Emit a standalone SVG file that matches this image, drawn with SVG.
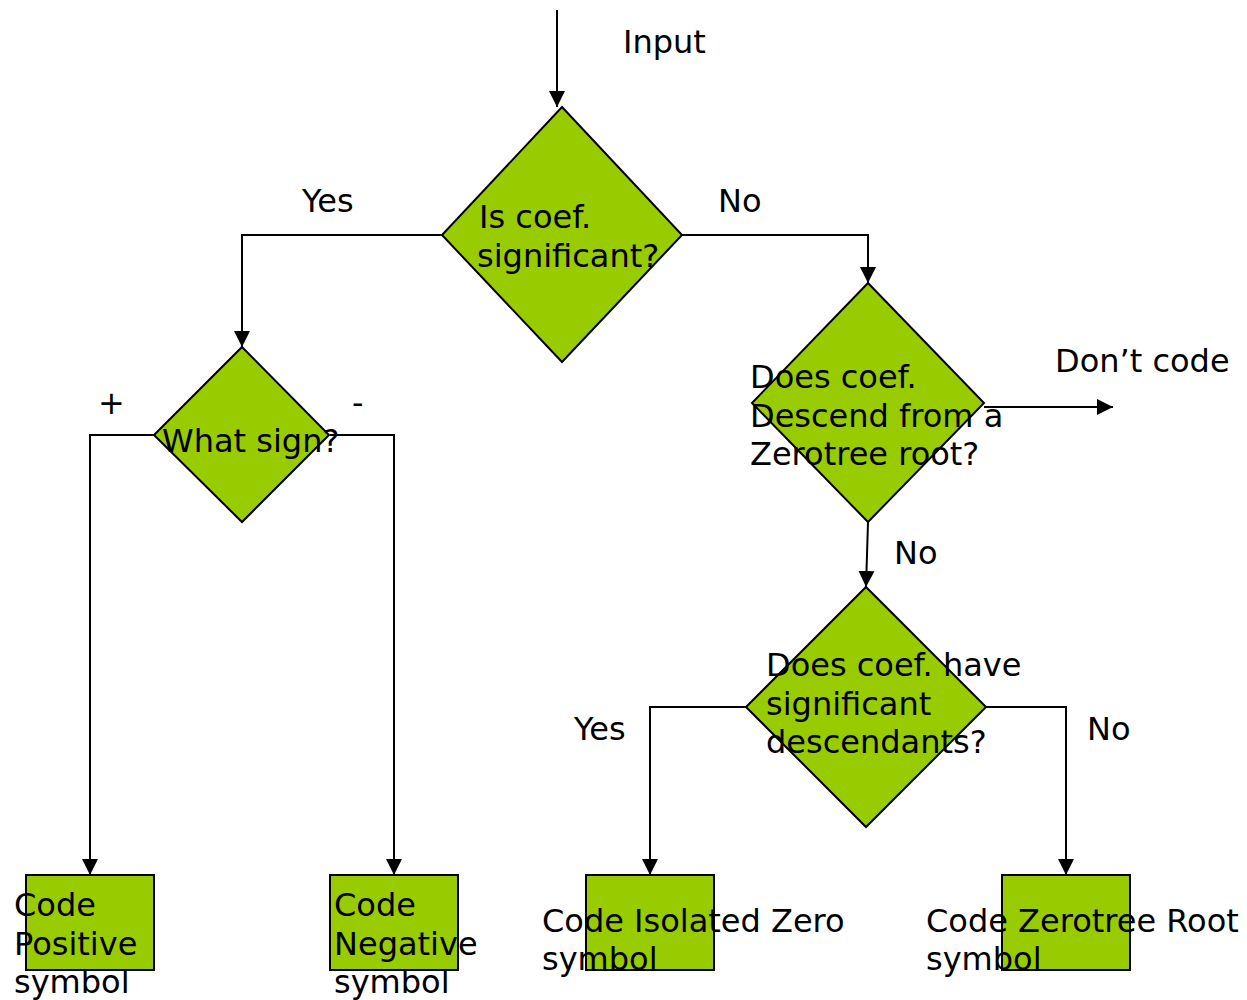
<svg xmlns="http://www.w3.org/2000/svg" width="1247" height="1000" viewBox="0 0 1247 1000">
<style>
.shape{fill:#99CC00;stroke:#000;stroke-width:2}
.conn{fill:none;stroke:#000;stroke-width:2}
text{font-family:"DejaVu Sans",Verdana,sans-serif;font-size:32px;fill:#000}
</style>
<defs>
<marker id="arr" markerUnits="userSpaceOnUse" markerWidth="17" markerHeight="17" viewBox="0 0 17 17" refX="16" refY="8.5" orient="auto">
<path d="M0,0.5 L16,8.5 L0,16.5 Z" fill="#000"/>
</marker>
</defs>
<g id="connectors">
<path class="conn" d="M557,10 L557,107" marker-end="url(#arr)"/>
<path class="conn" d="M442,235 L242,235 L242,347" marker-end="url(#arr)"/>
<path class="conn" d="M682,235 L868,235 L868,283" marker-end="url(#arr)"/>
<path class="conn" d="M154,435 L90,435 L90,875" marker-end="url(#arr)"/>
<path class="conn" d="M330,435 L394,435 L394,875" marker-end="url(#arr)"/>
<path class="conn" d="M984,407 L1113,407" marker-end="url(#arr)"/>
<path class="conn" d="M868,522 L866,587" marker-end="url(#arr)"/>
<path class="conn" d="M746,707 L650,707 L650,875" marker-end="url(#arr)"/>
<path class="conn" d="M986,707 L1066,707 L1066,875" marker-end="url(#arr)"/>
</g>
<g id="labels">
<text x="623" y="53">Input</text>
<text x="302" y="212">Yes</text>
<text x="718" y="212">No</text>
<text x="98" y="414">+</text>
<text x="352" y="414">-</text>
<text x="1055" y="372">Don’t code</text>
<text x="894" y="564">No</text>
<text x="574" y="740">Yes</text>
<text x="1087" y="740">No</text>
</g>
<g id="node-significant">
<polygon class="shape" points="562,107 682,235 562,362 442,235"/>
<text x="479" y="228">Is coef.</text>
<text x="477" y="267">significant?</text>
</g>
<g id="node-sign">
<polygon class="shape" points="242,347 329,435 242,522 154,435"/>
<text x="162" y="452">What sign?</text>
</g>
<g id="node-descend">
<polygon class="shape" points="868,283 984,403 868,522 752,403"/>
<text x="750" y="388">Does coef.</text>
<text x="750" y="427">Descend from a</text>
<text x="750" y="465">Zerotree root?</text>
</g>
<g id="node-descendants">
<polygon class="shape" points="866,587 986,707 866,827 746,707"/>
<text x="766" y="676">Does coef. have</text>
<text x="766" y="715">significant</text>
<text x="766" y="753">descendants?</text>
</g>
<g id="node-positive">
<rect class="shape" x="26" y="875" width="128" height="95"/>
<text x="14" y="916">Code</text>
<text x="14" y="955">Positive</text>
<text x="14" y="993">symbol</text>
</g>
<g id="node-negative">
<rect class="shape" x="330" y="875" width="128" height="95"/>
<text x="334" y="916">Code</text>
<text x="334" y="955">Negative</text>
<text x="334" y="993">symbol</text>
</g>
<g id="node-isolated">
<rect class="shape" x="586" y="875" width="128" height="95"/>
<text x="542" y="932">Code Isolated Zero</text>
<text x="542" y="970">symbol</text>
</g>
<g id="node-zerotree">
<rect class="shape" x="1002" y="875" width="128" height="95"/>
<text x="926" y="932">Code Zerotree Root</text>
<text x="926" y="970">symbol</text>
</g>
</svg>
